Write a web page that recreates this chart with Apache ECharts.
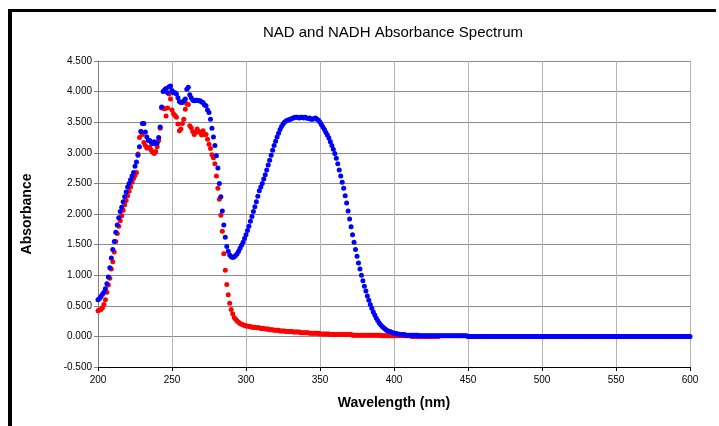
<!DOCTYPE html>
<html>
<head>
<meta charset="utf-8">
<script src="https://cdn.jsdelivr.net/npm/echarts@6/dist/echarts.min.js"></script>
<style>
html,body{margin:0;padding:0;background:#fff;}
#chart{width:719px;height:426px;}
</style>
</head>
<body>
<div id="chart"></div>
<script>
// Wavelength grid (nm): first value and step of the scans
const WAVE_START = 200;
const WAVE_STEP = 1;

// NAD absorbance (red), 200..430 nm
const nadAbs = [
0.42,0.43,0.44,0.47,0.52,0.60,0.72,0.84,0.95,1.10,
1.22,1.38,1.55,1.68,1.80,1.89,1.97,2.06,2.15,2.22,
2.30,2.37,2.44,2.52,2.58,2.63,2.68,2.98,3.25,3.35,
3.30,3.17,3.12,3.08,3.08,3.09,3.04,3.01,2.99,3.02,
3.10,3.20,3.40,3.73,3.73,3.72,3.60,3.73,3.96,3.88,
3.70,3.64,3.61,3.58,3.47,3.36,3.39,3.48,3.55,3.71,
3.80,3.79,3.44,3.41,3.35,3.30,3.33,3.39,3.35,3.33,
3.29,3.36,3.30,3.30,3.22,3.14,3.07,2.97,2.92,2.82,
2.62,2.42,2.24,1.98,1.72,1.35,1.08,0.85,0.68,0.54,
0.44,0.37,0.31,0.28,0.25,0.23,0.21,0.20,0.19,0.18,
0.17,0.17,0.16,0.16,0.15,0.15,0.15,0.14,0.14,0.14,
0.13,0.13,0.13,0.12,0.12,0.12,0.11,0.11,0.11,0.10,
0.10,0.10,0.10,0.09,0.09,0.09,0.09,0.08,0.08,0.08,
0.08,0.08,0.07,0.07,0.07,0.07,0.07,0.06,0.06,0.06,
0.06,0.06,0.06,0.05,0.05,0.05,0.05,0.05,0.05,0.05,
0.04,0.04,0.04,0.04,0.04,0.04,0.04,0.03,0.03,0.03,
0.03,0.03,0.03,0.03,0.03,0.03,0.03,0.03,0.03,0.03,
0.03,0.03,0.02,0.02,0.02,0.02,0.02,0.02,0.02,0.02,
0.02,0.02,0.02,0.02,0.02,0.02,0.02,0.02,0.02,0.02,
0.02,0.02,0.01,0.01,0.01,0.01,0.01,0.01,0.01,0.01,
0.01,0.01,0.01,0.01,0.01,0.01,0.01,0.01,0.01,0.01,
0.01,0.01,0.00,0.00,0.00,0.00,0.00,0.00,0.00,0.00,
0.00,0.00,0.00,0.00,0.00,0.00,0.00,0.00,0.00,0.00,
0.00
];

// NADH absorbance (blue), 200..600 nm
const nadhAbs = [
0.60,0.62,0.65,0.69,0.72,0.78,0.86,0.97,1.12,1.28,
1.42,1.55,1.70,1.82,1.94,2.04,2.11,2.20,2.28,2.36,
2.44,2.50,2.56,2.62,2.68,2.78,2.85,2.96,3.10,3.35,
3.48,3.48,3.34,3.26,3.20,3.20,3.17,3.15,3.18,3.15,
3.16,3.25,3.42,3.75,4.00,4.03,4.05,3.98,4.08,4.09,
4.02,3.98,3.98,3.96,3.90,3.84,3.82,3.82,3.85,3.88,
4.04,4.07,3.95,3.90,3.86,3.85,3.86,3.86,3.85,3.85,
3.83,3.82,3.78,3.77,3.70,3.66,3.55,3.40,3.26,3.12,
2.95,2.75,2.50,2.28,2.05,1.82,1.62,1.47,1.39,1.33,
1.30,1.29,1.30,1.32,1.35,1.39,1.44,1.49,1.54,1.60,
1.66,1.73,1.80,1.88,1.96,2.04,2.12,2.20,2.29,2.38,
2.44,2.50,2.57,2.64,2.72,2.80,2.88,2.96,3.04,3.12,
3.19,3.26,3.32,3.38,3.43,3.47,3.50,3.52,3.53,3.54,
3.55,3.56,3.57,3.58,3.58,3.58,3.57,3.58,3.58,3.57,
3.58,3.57,3.56,3.57,3.55,3.55,3.56,3.57,3.55,3.53,
3.50,3.46,3.42,3.38,3.33,3.29,3.24,3.18,3.12,3.06,
2.99,2.91,2.82,2.72,2.62,2.52,2.42,2.30,2.18,2.05,
1.92,1.79,1.66,1.54,1.42,1.31,1.20,1.10,1.00,0.91,
0.82,0.74,0.66,0.59,0.52,0.46,0.40,0.35,0.30,0.26,
0.22,0.19,0.16,0.14,0.12,0.10,0.09,0.08,0.07,0.06,
0.05,0.05,0.04,0.04,0.03,0.03,0.03,0.03,0.02,0.02,
0.02,0.02,0.02,0.02,0.02,0.02,0.02,0.01,0.01,0.01,
0.01,0.01,0.01,0.01,0.01,0.01,0.01,0.01,0.01,0.01,
0.01,0.01,0.01,0.01,0.01,0.01,0.01,0.01,0.01,0.01,
0.01,0.01,0.01,0.01,0.01,0.01,0.01,0.01,0.01,0.01,
0.00,0.00,0.00,0.00,0.00,0.00,0.00,0.00,0.00,0.00,
0.00,0.00,0.00,0.00,0.00,0.00,0.00,0.00,0.00,0.00,
0.00,0.00,0.00,0.00,0.00,0.00,0.00,0.00,0.00,0.00,
0.00,0.00,0.00,0.00,0.00,0.00,0.00,0.00,0.00,0.00,
0.00,0.00,0.00,0.00,0.00,0.00,0.00,0.00,0.00,0.00,
0.00,0.00,0.00,0.00,0.00,0.00,0.00,0.00,0.00,0.00,
0.00,0.00,0.00,0.00,0.00,0.00,0.00,0.00,0.00,0.00,
0.00,0.00,0.00,0.00,0.00,0.00,0.00,0.00,0.00,0.00,
0.00,0.00,0.00,0.00,0.00,0.00,0.00,0.00,0.00,0.00,
0.00,0.00,0.00,0.00,0.00,0.00,0.00,0.00,0.00,0.00,
0.00,0.00,0.00,0.00,0.00,0.00,0.00,0.00,0.00,0.00,
0.00,0.00,0.00,0.00,0.00,0.00,0.00,0.00,0.00,0.00,
0.00,0.00,0.00,0.00,0.00,0.00,0.00,0.00,0.00,0.00,
0.00,0.00,0.00,0.00,0.00,0.00,0.00,0.00,0.00,0.00,
0.00,0.00,0.00,0.00,0.00,0.00,0.00,0.00,0.00,0.00,
0.00
];

const titleText = 'NAD and NADH Absorbance Spectrum';
const xName = 'Wavelength (nm)';
const yName = 'Absorbance';

function pairs(arr) {
  return arr.map((v, i) => [WAVE_START + i * WAVE_STEP, v]);
}

const FONT = "'Liberation Sans', Arial, sans-serif";
const chart = echarts.init(document.getElementById('chart'), null, {renderer: 'canvas'});
chart.setOption({
  animation: false,
  backgroundColor: '#ffffff',
  grid: {left: 98, right: 29, top: 61, bottom: 59, containLabel: false, outerBoundsMode: 'none'},
  graphic: [
    {type: 'rect', shape: {x: 8, y: 9, width: 708, height: 3}, style: {fill: '#000'}},
    {type: 'rect', shape: {x: 8, y: 9, width: 4, height: 417}, style: {fill: '#000'}},
    {type: 'text', x: 393, y: 33, style: {text: titleText, font: '15px ' + FONT, fill: '#000', textAlign: 'center', textVerticalAlign: 'middle'}}
  ],
  xAxis: {
    type: 'value', min: 200, max: 600, interval: 50,
    name: xName, nameLocation: 'middle', nameGap: 29,
    nameTextStyle: {fontFamily: FONT, fontSize: 14, fontWeight: 'bold', color: '#000'},
    axisLine: {onZero: false, lineStyle: {color: '#000', width: 1}},
    axisTick: {show: true, inside: false, length: 4, lineStyle: {color: '#000'}},
    axisLabel: {fontFamily: FONT, fontSize: 10, color: '#000', margin: 8},
    splitLine: {show: true, lineStyle: {color: '#b4b4b4', width: 1}}
  },
  yAxis: {
    type: 'value', min: -0.5, max: 4.5, interval: 0.5,
    name: yName, nameLocation: 'middle', nameGap: 64, nameRotate: 90,
    nameTextStyle: {fontFamily: FONT, fontSize: 14, fontWeight: 'bold', color: '#000'},
    axisLine: {show: true, onZero: false, lineStyle: {color: '#808080', width: 1}},
    axisTick: {show: true, inside: false, length: 4, lineStyle: {color: '#808080'}},
    axisLabel: {fontFamily: FONT, fontSize: 10, color: '#000', margin: 6, formatter: v => v.toFixed(3)},
    splitLine: {show: true, lineStyle: {color: '#8c8c8c', width: 1}}
  },
  series: [
    {type: 'scatter', name: 'NAD', data: pairs(nadAbs), symbol: 'circle', symbolSize: 5, itemStyle: {color: '#ff0000', opacity: 1}},
    {type: 'scatter', name: 'NADH', data: pairs(nadhAbs), symbol: 'circle', symbolSize: 5, itemStyle: {color: '#0000ff', opacity: 1}}
  ]
});
</script>
</body>
</html>
